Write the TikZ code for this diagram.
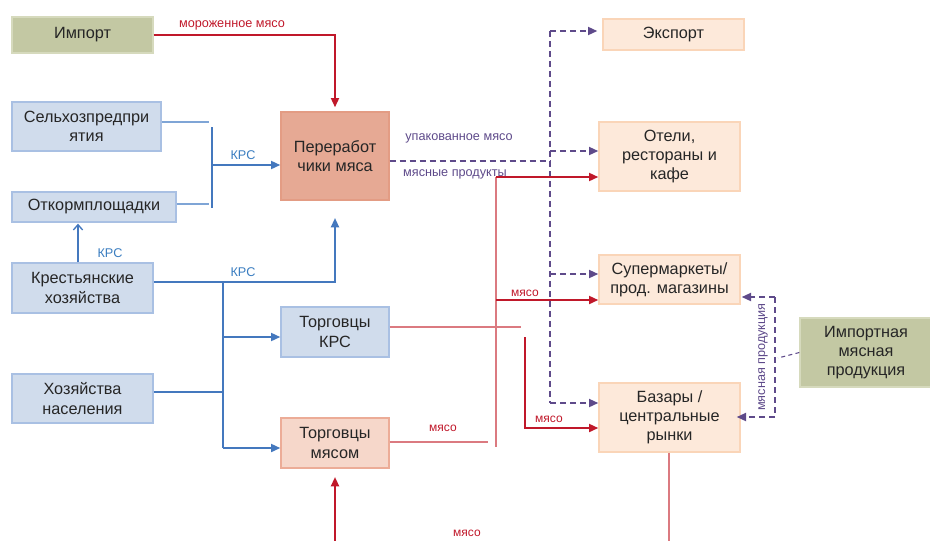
\documentclass[tikz,border=0pt]{standalone}
\usepackage{fontspec}
\setmainfont{Liberation Sans}
\usetikzlibrary{arrows.meta,calc}
\definecolor{txt}{HTML}{262626}
\definecolor{bfill}{HTML}{D0DCEC}
\definecolor{bdraw}{HTML}{A9C0E3}
\definecolor{gfill}{HTML}{C3C8A3}
\definecolor{gdraw}{HTML}{D6DABD}
\definecolor{pfill}{HTML}{E6A994}
\definecolor{pdraw}{HTML}{E39C84}
\definecolor{tfill}{HTML}{F6D7CA}
\definecolor{tdraw}{HTML}{ECAC97}
\definecolor{cfill}{HTML}{FDE9DA}
\definecolor{cdraw}{HTML}{FAD5B8}
\definecolor{blueL}{HTML}{4478BE}
\definecolor{blueT}{HTML}{3A7DC0}
\definecolor{blueThin}{HTML}{7FA5D6}
\definecolor{redL}{HTML}{C0182A}
\definecolor{redThin}{HTML}{DB7A80}
\definecolor{purL}{HTML}{5E4A8A}
\tikzset{
  sz/.style 2 args={minimum width=#1*0.75pt, minimum height=#2*0.75pt},
  box/.style={draw, line width=1pt, inner sep=0pt, align=center, text=txt,
    font=\fontsize{12.2}{14.3}\selectfont},
  bluebox/.style={box, fill=bfill, draw=bdraw},
  greenbox/.style={box, fill=gfill, draw=gdraw},
  procbox/.style={box, fill=pfill, draw=pdraw},
  tradebox/.style={box, fill=tfill, draw=tdraw},
  consbox/.style={box, fill=cfill, draw=cdraw},
  tri/.style={-{Triangle[length=7pt,width=6pt]}},
  bline/.style={draw=blueL, line width=1.5pt},
  bthin/.style={draw=blueThin, line width=1pt},
  rline/.style={draw=redL, line width=1.5pt},
  rthin/.style={draw=redThin, line width=1pt},
  pline/.style={draw=purL, line width=1.4pt, dash pattern=on 4.5pt off 3pt},
  pthin/.style={draw=purL, line width=0.8pt, dash pattern=on 3pt off 2.5pt},
  lbl/.style={inner sep=0pt, font=\fontsize{9.5}{11}\selectfont},
  blbl/.style={lbl, text=blueT, font=\fontsize{9.5}{11}\selectfont},
  rlbl/.style={lbl, text=redL, font=\fontsize{9}{11}\selectfont},
  plbl/.style={lbl, text=purL}
}
\begin{document}
\begin{tikzpicture}[x=0.75pt,y=-0.75pt]
\useasboundingbox (0,0) rectangle (930,540);
% boxes
\node[greenbox, sz={141}{36}] (imp) at (82.5,35) {Импорт};
\node[bluebox, sz={149}{49}] (sel) at (86.5,126.5) {Сельхозпредпри\\ятия};
\node[bluebox, sz={164}{30}] (otk) at (94,207) {Откормплощадки};
\node[bluebox, sz={141}{50}] (kre) at (82.5,288) {Крестьянские\\хозяйства};
\node[bluebox, sz={141}{49}] (hoz) at (82.5,398.5) {Хозяйства\\населения};
\node[procbox, sz={108}{88}] (per) at (335,156) {Переработ\\чики мяса};
\node[bluebox, sz={108}{50}] (tkrs) at (335,332) {Торговцы\\КРС};
\node[tradebox, sz={108}{50}] (tmy) at (335,443) {Торговцы\\мясом};
\node[consbox, sz={141}{31}] (exp) at (673.5,34.5) {Экспорт};
\node[consbox, sz={141}{69}] (hot) at (669.5,156.5) {Отели,\\рестораны и\\кафе};
\node[consbox, sz={141}{49}] (sup) at (669.5,279.5) {Супермаркеты/\\прод. магазины};
\node[consbox, sz={141}{69}] (baz) at (669.5,417.5) {Базары /\\центральные\\рынки};
\node[greenbox, sz={144}{69}] (imm) at (872,352.5) {\hspace*{-9pt}Импортная\\\hspace*{-9pt}мясная\\\hspace*{-9pt}продукция};

% helper coordinates
\coordinate (kx) at (78,0);
\coordinate (b1t) at (212,127);
\coordinate (b1b) at (212,208);
\coordinate (b1m) at (212,165);
\coordinate (selj) at (209,122);
\coordinate (otkj) at (209,204);
\coordinate (kj) at (223,282);
\coordinate (ktip) at (335,218);
\coordinate (tk1) at (223,337);
\coordinate (tk2) at (223,448);
\coordinate (hj) at (223,392);
\coordinate (pj) at (550,161);
\coordinate (pt) at (550,31);
\coordinate (pb) at (550,403);
\coordinate (ph) at (550,151);
\coordinate (ps) at (550,274);
\coordinate (r1t) at (496,177);
\coordinate (r1b) at (496,447);
\coordinate (r1s) at (496,300);
\coordinate (tkr) at (521,327);
\coordinate (r2t) at (525,337);
\coordinate (r2b) at (525,428);
\coordinate (tmr) at (488,442);
\coordinate (bot1) at (335,545);
\coordinate (bot1t) at (335,477);
\coordinate (bot2) at (669,545);
\coordinate (ij) at (778,358);
\coordinate (it) at (775,297);
\coordinate (ib) at (775,417);

% import -> processors
\draw[rline, tri] (imp.east) -| ($(per.north)+(0,-4)$);
\node[rlbl, font=\fontsize{9.5}{11}\selectfont] (l1) at (232,25) {мороженное мясо};

% farms -> processors
\draw[bthin] ($(sel.east)+(0,-4.5)$) -- (selj);
\draw[bthin] ($(otk.east)+(0,-3)$) -- (otkj);
\draw[bline] (b1t) -- (b1b);
\draw[bline, tri] (b1m) -- (per.west |- b1m);
\node[blbl] (l2) at (243,155) {КРС};

\draw[draw=blueL, line width=1pt, -{Straight Barb[length=4pt,width=7pt]}] (kre.north -| kx) -- ($(otk.south -| kx)+(0,1)$);
\node[blbl] (l3) at (110,253) {КРС};

\draw[bline, tri] ($(kre.east)+(0,-6)$) -| (ktip);
\node[blbl] (l4) at (243,272) {КРС};
\draw[bline] (kj) -- (tk2);
\draw[bline, tri] (tk1) -- (tkrs.west |- tk1);
\draw[bline, tri] (tk2) -- (tmy.west |- tk2);
\draw[bline] ($(hoz.east)+(0,-6.5)$) -- (hj);

% processors -> consumers (dashed)
\draw[pline] ($(per.east)+(0,5)$) -- (pj);
\draw[pline] (pt) -- (pb);
\draw[pline, tri] (pt) -- ($(exp.west |- pt)+(-5,0)$);
\draw[pline, tri] (ph) -- (hot.west |- ph);
\draw[pline, tri] (ps) -- (sup.west |- ps);
\draw[pline, tri] (pb) -- (baz.west |- pb);
\node[plbl] (l5) at (459,138) {упакованное мясо};
\node[plbl] (l6) at (455,174) {мясные продукты};

% meat flows (red)
\draw[rthin] (r1t) -- (r1b);
\draw[rline, tri] (r1t) -- (hot.west |- r1t);
\draw[rline, tri] (r1s) -- (sup.west |- r1s);
\node[rlbl] (l7) at (525,293) {мясо};
\draw[rthin] ($(tkrs.east)+(0,-5)$) -- (tkr);
\draw[rline, tri] (r2t) -- (r2b) -- (baz.west |- r2b);
\node[rlbl] (l8) at (549,419) {мясо};
\draw[rthin] ($(tmy.east)+(0,-1)$) -- (tmr);
\node[rlbl] (l9) at (443,428) {мясо};
\draw[rline, tri] (bot1) -- (bot1t);
\node[rlbl] (l10) at (467,533) {мясо};
\draw[draw=redThin, line width=1.3pt] (baz.south -| bot2) -- (bot2);

% imported meat products
\draw[pthin] (imm.west) -- (ij);
\draw[pline] (it) -- (ib);
\draw[pline, tri] (it) -- ($(sup.east |- it)+(1,0)$);
\draw[pline, tri] (ib) -- ($(baz.east |- ib)+(-4,0)$);
\node[plbl, rotate=90] (l11) at (763,357) {мясная продукция};
\end{tikzpicture}
\end{document}
